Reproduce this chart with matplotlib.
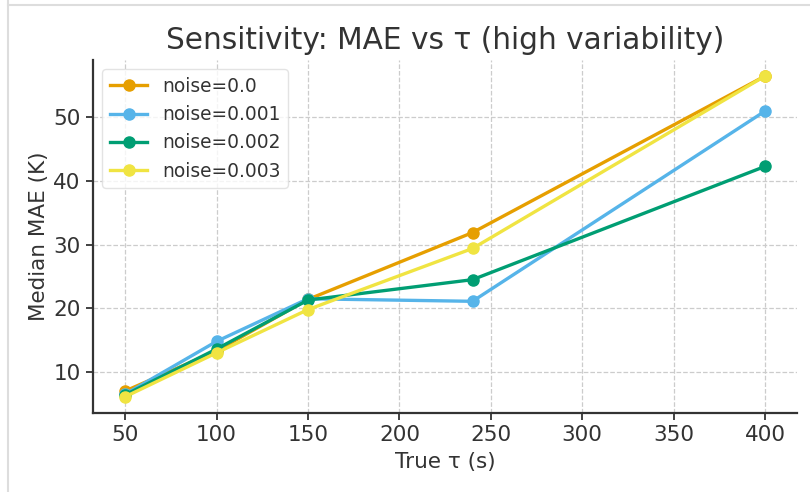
import numpy as np
import matplotlib
matplotlib.use('Agg')
import matplotlib.pyplot as plt
from matplotlib.lines import Line2D

tau = [50, 100, 150, 240, 400]
noise_labels = ['noise=0.0', 'noise=0.001', 'noise=0.002', 'noise=0.003']
mae_0 = [7.0, 13.3, 21.4, 31.9, 56.5]
mae_1 = [6.5, 14.8, 21.5, 21.1, 51.0]
mae_2 = [6.4, 13.6, 21.3, 24.5, 42.3]
mae_3 = [6.1, 13.0, 19.8, 29.4, 56.5]
colors = ['#E69F00', '#56B4E9', '#009E73', '#F0E442']

plt.rcParams['font.family'] = ['DejaVu Sans']
plt.rcParams['text.color'] = '#333333'
plt.rcParams['axes.labelcolor'] = '#333333'
plt.rcParams['xtick.color'] = '#333333'
plt.rcParams['ytick.color'] = '#333333'

fig = plt.figure(figsize=(8.1, 4.92), dpi=100)
ax = fig.add_axes([0.115, 0.161, 0.869, 0.717])

for series, lab, c in zip([mae_0, mae_1, mae_2, mae_3], noise_labels, colors):
    ax.plot(tau, series, marker='o', color=c, lw=2.4, ms=8, label=lab)

ax.grid(True, linestyle='--', color='#cccccc', lw=0.9)
ax.set_axisbelow(True)
for s in ['top', 'right']:
    ax.spines[s].set_visible(False)
for s in ['left', 'bottom']:
    ax.spines[s].set_color('#333333')
    ax.spines[s].set_linewidth(1.6)
ax.tick_params(labelsize=15.5, length=5, width=1.3, pad=4)
ax.set_xticks([50, 100, 150, 200, 250, 300, 350, 400])
ax.set_yticks([10, 20, 30, 40, 50])
ax.set_xlabel('True τ (s)', fontsize=15.5, labelpad=5)
ax.set_ylabel('Median MAE (K)', fontsize=15.5, labelpad=3)
ax.set_title('Sensitivity: MAE vs τ (high variability)', fontsize=21.3, pad=8)
ax.legend(loc='upper left', fontsize=13.4, frameon=True, edgecolor='#dddddd')

# screenshot frame lines
fig.add_artist(Line2D([8/810, 8/810], [0, 1], color='#dddddd', lw=1.5))
fig.add_artist(Line2D([8/810, 1], [1 - 5/492, 1 - 5/492], color='#dddddd', lw=1.5))

fig.savefig('out.png', dpi=100)
